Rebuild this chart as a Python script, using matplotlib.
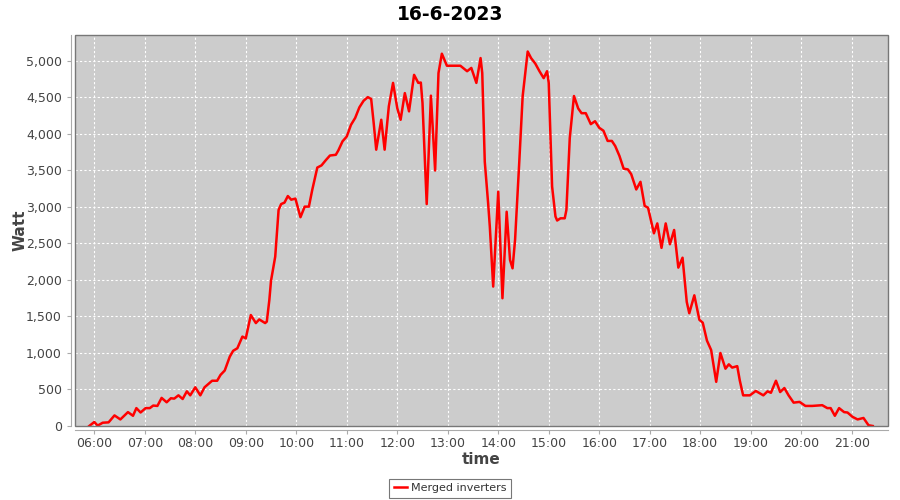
import matplotlib
matplotlib.use("Agg")
import matplotlib.pyplot as plt
from matplotlib.patches import Rectangle

title = "16-6-2023"
series_name = "Merged inverters"
x_label = "time"
y_label = "Watt"

times = ["05:54", "06:00", "06:04", "06:10", "06:17", "06:24", "06:31", "06:40", "06:46", "06:50",
         "06:55", "07:01", "07:06", "07:10", "07:15", "07:20", "07:26", "07:31", "07:35", "07:40",
         "07:45", "07:50", "07:54", "08:00", "08:06", "08:11", "08:20", "08:26", "08:30", "08:35",
         "08:41", "08:45", "08:50", "08:56", "09:00", "09:06", "09:12", "09:16", "09:23", "09:25",
         "09:28", "09:30", "09:35", "09:39", "09:42", "09:46", "09:50", "09:54", "09:59", "10:05",
         "10:10", "10:15", "10:19", "10:25", "10:30", "10:35", "10:40", "10:47", "10:50", "10:55",
         "11:00", "11:05", "11:10", "11:15", "11:20", "11:25", "11:29", "11:32", "11:35", "11:41",
         "11:45", "11:50", "11:55", "12:00", "12:04", "12:09", "12:14", "12:20", "12:25", "12:28",
         "12:30", "12:35", "12:40", "12:45", "12:49", "12:53", "12:59", "13:15", "13:23", "13:28",
         "13:34", "13:39", "13:41", "13:44", "13:48", "13:50", "13:54", "14:00", "14:05", "14:10",
         "14:14", "14:17", "14:20", "14:25", "14:29", "14:35", "14:39", "14:44", "14:49", "14:54",
         "14:58", "15:00", "15:04", "15:08", "15:10", "15:14", "15:19", "15:21", "15:25", "15:30",
         "15:35", "15:39", "15:44", "15:50", "15:55", "16:00", "16:05", "16:10", "16:15", "16:19",
         "16:24", "16:29", "16:34", "16:38", "16:44", "16:49", "16:54", "16:58", "17:05", "17:09",
         "17:14", "17:19", "17:24", "17:29", "17:34", "17:39", "17:44", "17:47", "17:53", "17:59",
         "18:03", "18:08", "18:13", "18:19", "18:24", "18:30", "18:34", "18:38", "18:44", "18:47",
         "18:51", "18:59", "19:06", "19:15", "19:20", "19:24", "19:30", "19:35", "19:40", "19:45",
         "19:51", "19:58", "20:05", "20:13", "20:25", "20:31", "20:35", "20:40", "20:45", "20:51",
         "20:55", "21:01", "21:07", "21:14", "21:20", "21:25"]

watts = [0, 55, 5, 45, 50, 145, 90, 190, 140, 245,
         185, 245, 245, 280, 275, 385, 325, 380, 375, 420,
         370, 475, 420, 530, 420, 530, 620, 620, 700, 760,
         950, 1030, 1065, 1225, 1200, 1520, 1410, 1460, 1410, 1430,
         1725, 1990, 2320, 2960, 3040, 3060, 3150, 3100, 3115, 2860,
         3005, 3005, 3235, 3540, 3570, 3640, 3705, 3715, 3775, 3900,
         3965, 4125, 4220, 4365, 4455, 4505, 4480, 4150, 3785, 4195,
         3785, 4380, 4700, 4355, 4195, 4560, 4310, 4810, 4700, 4705,
         4425, 3040, 4525, 3500, 4835, 5100, 4935, 4935, 4860, 4905,
         4700, 5040, 4835, 3620, 3050, 2730, 1910, 3210, 1750, 2935,
         2275, 2160, 2550, 3620, 4515, 5130, 5040, 4965, 4860, 4765,
         4860, 4700, 3280, 2870, 2815, 2845, 2845, 2960, 3945, 4520,
         4350, 4285, 4285, 4135, 4175, 4085, 4045, 3905, 3905, 3835,
         3700, 3525, 3515, 3450, 3240, 3345, 3015, 2990, 2640, 2775,
         2440, 2775, 2490, 2685, 2170, 2305, 1700, 1545, 1790, 1455,
         1415, 1170, 1040, 605, 1000, 785, 845, 800, 820, 625,
         420, 420, 480, 420, 475, 455, 620, 465, 520, 420,
         320, 330, 275, 275, 285, 245, 245, 140, 245, 190,
         185, 125, 90, 110, 10, 0]

hour_ticks = list(range(6, 22))
hour_labels = [f"{h:02d}:00" for h in hour_ticks]
y_ticks = list(range(0, 5001, 500))


def to_hours(s):
    h, m = s.split(":")
    return int(h) + int(m) / 60.0


x = [to_hours(t) for t in times]

fig = plt.figure(figsize=(9, 5), dpi=100)
fig.patch.set_facecolor("white")
ax = fig.add_axes([75 / 900, 1 - 426 / 500, 813 / 900, 391 / 500])
ax.set_facecolor("#cccccc")

ax.plot(x, watts, color="#ff0000", linewidth=1.8, label=series_name, zorder=3)

ax.set_xlim(5.618, 21.719)
ax.set_ylim(0, 5356)
ax.set_xticks(hour_ticks)
ax.set_xticklabels(hour_labels)
ax.set_yticks(y_ticks)
ax.set_yticklabels([f"{v:,}" for v in y_ticks])

ax.grid(True, color="white", linestyle=(0, (2, 2)), linewidth=0.8)
ax.set_axisbelow(True)

for s in ["top", "right"]:
    ax.spines[s].set_visible(False)
ax.spines["left"].set_position(("outward", 3))
ax.spines["bottom"].set_position(("outward", 3))
ax.spines["left"].set_color("#aaaaaa")
ax.spines["bottom"].set_color("#aaaaaa")
ax.add_patch(Rectangle((0, 0), 1, 1, transform=ax.transAxes, fill=False,
                       edgecolor="#777777", linewidth=1.0, clip_on=False, zorder=4))

ax.tick_params(axis="both", colors="#aaaaaa", labelcolor="#444444", labelsize=9,
               length=3, width=0.8)
ax.tick_params(axis="x", pad=2)

ax.set_xlabel(x_label, fontsize=11, fontweight="bold", color="#444444", labelpad=1)
ax.yaxis.set_label_coords(-0.058, 0.5)
ax.set_ylabel(y_label, fontsize=11, fontweight="bold", color="#444444")
fig.suptitle(title, fontsize=13.5, fontweight="bold", y=0.99)

leg = fig.legend(loc="lower center", bbox_to_anchor=(0.5, 0.0), fontsize=8,
                 frameon=True, fancybox=False, edgecolor="#555555", handlelength=1.2,
                 handletextpad=0.3, borderpad=0.4, borderaxespad=0.2)
leg.get_frame().set_linewidth(0.8)
for t in leg.get_texts():
    t.set_color("#333333")

fig.savefig("out.png", dpi=100)
